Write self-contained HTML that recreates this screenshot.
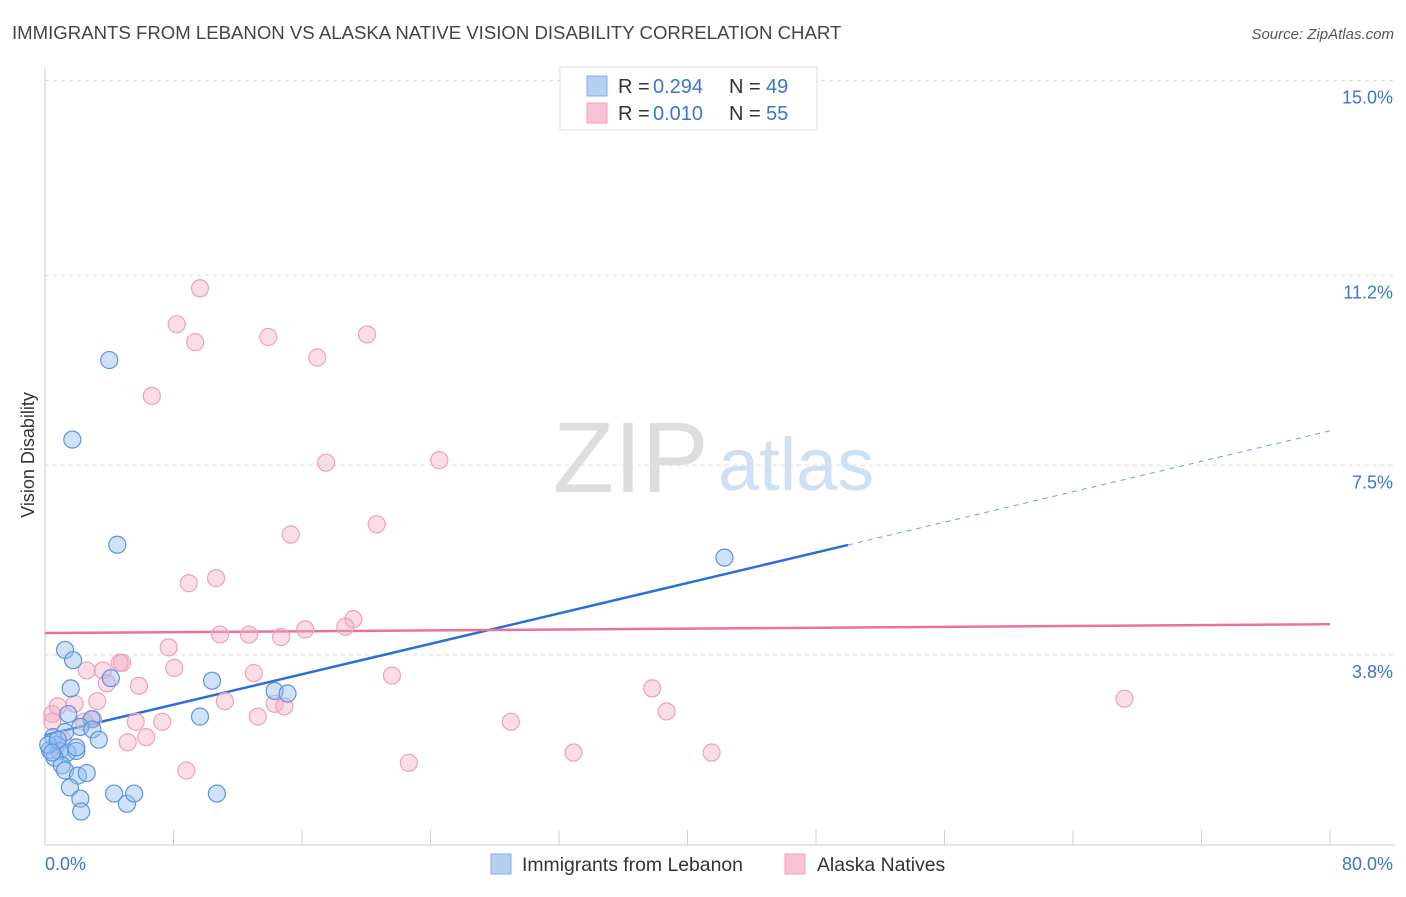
<!DOCTYPE html>
<html><head><meta charset="utf-8"><style>
body{margin:0;background:#fff;font-family:"Liberation Sans",sans-serif;}
svg text{font-family:"Liberation Sans",sans-serif;}
</style></head><body>
<svg id="chart" width="1406" height="892" xmlns="http://www.w3.org/2000/svg">
<text x="12" y="39" font-size="18.6" fill="#444">IMMIGRANTS FROM LEBANON VS ALASKA NATIVE VISION DISABILITY CORRELATION CHART</text>
<text x="1394" y="39" font-size="15" fill="#555" font-style="italic" text-anchor="end">Source: ZipAtlas.com</text>
<text x="553" y="492" font-size="100" font-family="Liberation Serif" fill="#ddd">ZIP</text>
<text x="718" y="490" font-size="74" fill="#cfe0f4">atlas</text>
<text transform="translate(34,455) rotate(-90)" font-size="18" fill="#333" text-anchor="middle">Vision Disability</text>
<g id="grid"></g><g id="ticks"></g><g id="lines"></g><g id="pts"></g>
<g>
<rect x="560" y="67" width="257" height="63" fill="#fff" stroke="#ddd"/>
<rect x="587" y="76" width="20" height="20" fill="#b5d0f5" stroke="#85aee6"/>
<rect x="587" y="103" width="20" height="20" fill="#f8c4d5" stroke="#eea0bb"/>
<text x="618" y="93" font-size="20" fill="#333">R =</text>
<text x="653" y="93" font-size="20" fill="#3a75d0">0.294</text>
<text x="729" y="93" font-size="20" fill="#333">N =</text>
<text x="766" y="93" font-size="20" fill="#3a75d0">49</text>
<text x="618" y="120" font-size="20" fill="#333">R =</text>
<text x="653" y="120" font-size="20" fill="#3a75d0">0.010</text>
<text x="729" y="120" font-size="20" fill="#333">N =</text>
<text x="766" y="120" font-size="20" fill="#3a75d0">55</text>
</g>
<g>
<rect x="491" y="854" width="20" height="20" fill="#b5d0f5" stroke="#85aee6"/>
<text x="522" y="871" font-size="19.4" fill="#333">Immigrants from Lebanon</text>
<rect x="785" y="854" width="20" height="20" fill="#f8c4d5" stroke="#eea0bb"/>
<text x="817" y="871" font-size="19.4" fill="#333">Alaska Natives</text>
</g>
</svg>
<script>
const yTicks=[3.8,7.5,11.2,15.0];
const yTickLabels=["3.8%","7.5%","11.2%","15.0%"];
const xTickLabels=["0.0%","80.0%"];
const blueX=[4.0,1.7,4.5,42.3,1.25,1.75,10.4,4.1,1.6,14.3,15.1,9.65,1.45,2.9,2.2,2.95,1.25,3.35,0.5,0.75,0.3,0.9,1.4,1.95,0.6,1.05,1.25,2.05,2.6,1.55,2.2,2.25,4.3,5.1,5.55,10.7,0.2,0.8,1.95,0.45];
const blueY=[9.55,8.0,5.95,5.7,3.9,3.7,3.3,3.35,3.15,3.1,3.05,2.6,2.65,2.55,2.4,2.35,2.3,2.15,2.2,2.05,1.95,1.93,1.9,1.93,1.8,1.65,1.55,1.45,1.5,1.22,1.0,0.75,1.1,0.9,1.1,1.1,2.05,2.15,2.0,1.9];
const pinkX=[9.65,8.2,9.35,13.9,20.05,16.95,6.65,17.5,24.55,20.65,15.3,8.95,10.65,19.2,18.7,16.2,10.9,12.7,14.7,7.7,4.65,4.8,2.6,3.6,8.05,13.0,21.6,3.85,5.85,37.8,67.2,3.25,1.85,11.2,14.3,14.9,38.7,0.8,0.45,13.25,5.65,7.3,29.0,3.0,0.45,6.3,5.15,32.9,41.5,22.65,8.8,2.45,1.1];
const pinkY=[10.95,10.25,9.9,10.0,10.05,9.6,8.85,7.55,7.6,6.35,6.15,5.2,5.3,4.5,4.35,4.3,4.2,4.2,4.15,3.95,3.65,3.65,3.5,3.5,3.55,3.45,3.4,3.25,3.2,3.15,2.95,2.9,2.85,2.9,2.85,2.8,2.7,2.8,2.65,2.6,2.5,2.5,2.5,2.55,2.5,2.2,2.1,1.9,1.9,1.7,1.55,2.5,2.15];
const blueTrend=[2.24,8.17];
const pinkTrend=[4.23,4.40];
const X0=45,X1=1330,YB=850,PY=51.3;
const sx=v=>X0+(X1-X0)*v/80, sy=v=>YB-v*PY;
const NS="http://www.w3.org/2000/svg";
function mk(t,a,p){const e=document.createElementNS(NS,t);for(const k in a)e.setAttribute(k,a[k]);p.appendChild(e);return e;}
const grid=document.getElementById('grid'),ticks=document.getElementById('ticks'),lines=document.getElementById('lines'),pts=document.getElementById('pts');
let ax=mk('line',{x1:45,y1:68,x2:45,y2:845,stroke:'#ccc'},ticks);


let bx=mk('line',{x1:45,y1:845,x2:1394,y2:845,stroke:'#ccc'},ticks);


for(let i=0;i<=10;i++){const t=mk('line',{x1:sx(i*8),y1:830,x2:sx(i*8),y2:845,stroke:'#ccc'},ticks);

}
yTicks.forEach((v,i)=>{const g=mk('line',{x1:45,y1:sy(v),x2:1394,y2:sy(v),stroke:'#ddd','stroke-dasharray':'4,4'},grid);


const t=mk('text',{x:1393,y:sy(v)+23,'font-size':18,fill:'#3a75d0','text-anchor':'end'},grid);t.textContent=yTickLabels[i];

});
[[45,'start'],[1393,'end']].forEach((d,i)=>{const t=mk('text',{x:d[0],y:870,'font-size':18,fill:'#3a75d0','text-anchor':d[1]},grid);t.textContent=xTickLabels[i];

});
const yAt=(tr,x)=>tr[0]+(tr[1]-tr[0])*x/80;
let l1=mk('line',{x1:sx(0),y1:sy(yAt(blueTrend,0)),x2:sx(50),y2:sy(yAt(blueTrend,50)),stroke:'#2a6fd6','stroke-width':2.5},lines);


let l2=mk('line',{x1:sx(50),y1:sy(yAt(blueTrend,50)),x2:sx(80),y2:sy(yAt(blueTrend,80)),stroke:'#6b9be0','stroke-width':1,'stroke-dasharray':'5,5'},lines);


let l3=mk('line',{x1:sx(0),y1:sy(pinkTrend[0]),x2:sx(80),y2:sy(pinkTrend[1]),stroke:'#e8739a','stroke-width':2.5},lines);


pinkX.forEach((x,i)=>{const c=mk('circle',{cx:sx(x),cy:sy(pinkY[i]),r:8.5,fill:'rgba(245,170,195,0.4)',stroke:'#eea0bb','stroke-width':1.2},pts);

});
blueX.forEach((x,i)=>{const c=mk('circle',{cx:sx(x),cy:sy(blueY[i]),r:8.5,fill:'rgba(150,190,240,0.45)',stroke:'#5b93e0','stroke-width':1.2},pts);

});
</script>
</body></html>
